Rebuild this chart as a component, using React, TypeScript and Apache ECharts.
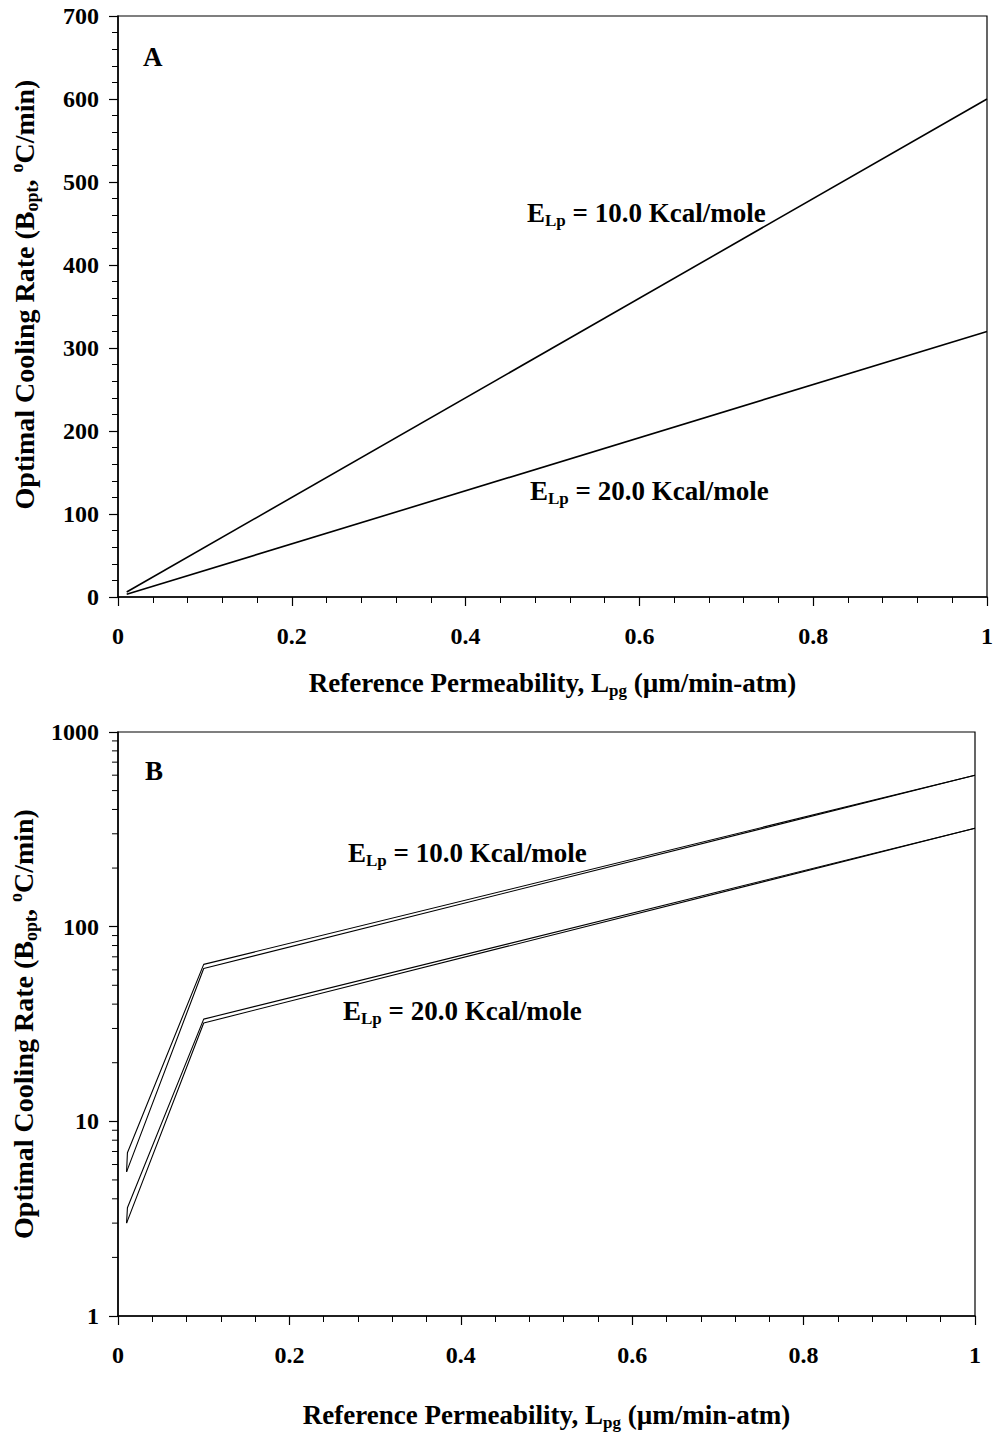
import React, { useEffect, useRef } from "react";
import * as echarts from "echarts";

// ---------- data ----------
// Panel A (linear scale)
const lpA = [0.01, 1.0];
const coolA_E10 = [6, 600];
const coolA_E20 = [3.2, 320];

// Panel B (log scale) – each curve drawn as a pair of close lines
const lpB_main = [0.01, 0.1, 1.0];
const lpB_alt = [0.01, 0.011, 0.1, 1.0];
const coolB_E10_main = [5.5, 61, 600];
const coolB_E10_alt = [5.5, 6.9, 64, 600];
const coolB_E20_main = [3.0, 32, 320];
const coolB_E20_alt = [3.0, 3.6, 33.5, 320];

const xTicks = [0, 0.2, 0.4, 0.6, 0.8, 1];
const yTicksA = [0, 100, 200, 300, 400, 500, 600, 700];
const yTicksB = [1, 10, 100, 1000];
const logMinor = [2, 3, 4, 5, 6, 7, 8, 9, 20, 30, 40, 50, 60, 70, 80, 90, 200, 300, 400, 500, 600, 700, 800, 900];

const FONT = "'Liberation Serif', 'Times New Roman', serif";

const pairs = (xs: number[], ys: number[]) => xs.map((x, i) => [x, ys[i]]);

const makeRich = (size: number, subSize: number) => ({
  b: { fontFamily: FONT, fontWeight: "bold", fontSize: size, lineHeight: size + 5, verticalAlign: "middle", color: "#000" },
  sub: { fontFamily: FONT, fontWeight: "bold", fontSize: subSize, lineHeight: subSize, verticalAlign: "bottom", color: "#000" },
  sup: { fontFamily: FONT, fontWeight: "bold", fontSize: subSize, lineHeight: subSize + 2, verticalAlign: "top", color: "#000" },
});
const richBase = makeRich(27, 17);
const richY = makeRich(28, 18);

const yName = "{b|Optimal Cooling Rate (B}{sub|opt}{b|, }{sup|o}{b|C/min)}";
const xName = "{b|Reference Permeability, L}{sub|pg}{b| (µm/min-atm)}";

function labelText(left: number, top: number, text: string) {
  return {
    type: "text",
    left,
    top,
    style: {
      text,
      rich: richBase,
      fill: "#000",
    },
  };
}

export default function App() {
  const ref = useRef<HTMLDivElement>(null);
  useEffect(() => {
    if (!ref.current) return;
    const chart = echarts.init(ref.current, undefined, { renderer: "svg" });

    const axisCommon = {
      axisLine: { show: true, onZero: false, lineStyle: { color: "#000", width: 1.5 } },
      axisTick: { show: true, inside: false, length: 9, lineStyle: { color: "#000", width: 1.2 } },
      minorTick: { show: true, splitNumber: 5, length: 6, lineStyle: { color: "#000", width: 1 } },
      splitLine: { show: false },
      minorSplitLine: { show: false },
      axisLabel: { fontFamily: FONT, fontWeight: "bold", fontSize: 24, color: "#000" },
    };

    const xAxis = (gridIndex: number, nameGap: number) => ({
      ...axisCommon,
      type: "value",
      gridIndex,
      min: 0,
      max: 1,
      interval: 0.2,
      axisLabel: {
        ...axisCommon.axisLabel,
        margin: 27,
        formatter: (v: number) => {
          const t = xTicks.find((k) => Math.abs(k - v) < 1e-6);
          return t === undefined ? "" : String(t);
        },
      },
      name: xName,
      nameLocation: "middle",
      nameGap,
      nameTextStyle: { rich: richBase },
    });

    const lineSeries = (xi: number, data: number[][], width: number) => ({
      type: "line",
      xAxisIndex: xi,
      yAxisIndex: xi,
      data,
      symbol: "none",
      silent: true,
      lineStyle: { color: "#000", width },
    });

    const option = {
      animation: false,
      backgroundColor: "#fff",
      grid: [
        { left: 118, top: 16, width: 869, height: 581, show: true, borderColor: "#000", borderWidth: 1.2, backgroundColor: "transparent", containLabel: false, outerBoundsMode: "none" },
        { left: 118, top: 732, width: 857, height: 584, show: true, borderColor: "#000", borderWidth: 1.2, backgroundColor: "transparent", containLabel: false, outerBoundsMode: "none" },
      ],
      xAxis: [xAxis(0, 70), xAxis(1, 83)],
      yAxis: [
        {
          ...axisCommon,
          type: "value",
          gridIndex: 0,
          min: yTicksA[0],
          max: yTicksA[yTicksA.length - 1],
          interval: 100,
          axisLabel: { ...axisCommon.axisLabel, margin: 19 },
          name: yName,
          nameLocation: "middle",
          nameRotate: 90,
          nameGap: 77,
          nameTextStyle: { rich: richY, padding: [0, 0, 0, 24] },
        },
        {
          ...axisCommon,
          type: "log",
          logBase: 10,
          gridIndex: 1,
          min: yTicksB[0],
          max: yTicksB[yTicksB.length - 1],
          minorTick: { show: false },
          axisLabel: {
            ...axisCommon.axisLabel,
            margin: 19,
            formatter: (v: number) => {
              const t = yTicksB.find((k) => Math.abs(k - v) / k < 1e-6);
              return t === undefined ? "" : String(t);
            },
          },
          name: yName,
          nameLocation: "middle",
          nameRotate: 90,
          nameGap: 72,
          nameTextStyle: { rich: richY },
        },
      ],
      series: [
        lineSeries(0, pairs(lpA, coolA_E10), 1.6),
        lineSeries(0, pairs(lpA, coolA_E20), 1.6),
        lineSeries(1, pairs(lpB_main, coolB_E10_main), 1.1),
        lineSeries(1, pairs(lpB_alt, coolB_E10_alt), 1.1),
        lineSeries(1, pairs(lpB_main, coolB_E20_main), 1.1),
        lineSeries(1, pairs(lpB_alt, coolB_E20_alt), 1.1),
        {
          type: "custom",
          xAxisIndex: 1,
          yAxisIndex: 1,
          clip: false,
          silent: true,
          data: logMinor.map((v) => [0, v]),
          renderItem: (_params: any, api: any) => {
            const p = api.coord([api.value(0), api.value(1)]);
            return {
              type: "line",
              shape: { x1: p[0] - 6, y1: p[1], x2: p[0], y2: p[1] },
              style: { stroke: "#000", lineWidth: 1 },
            };
          },
        },
      ],
      graphic: [
        { type: "text", left: 143, top: 43, style: { text: "A", font: `bold 27px ${FONT}`, fill: "#000" } },
        { type: "text", left: 145, top: 757, style: { text: "B", font: `bold 27px ${FONT}`, fill: "#000" } },
        labelText(527, 199, "{b|E}{sub|Lp}{b| = 10.0 Kcal/mole}"),
        labelText(530, 477, "{b|E}{sub|Lp}{b| = 20.0 Kcal/mole}"),
        labelText(348, 839, "{b|E}{sub|Lp}{b| = 10.0 Kcal/mole}"),
        labelText(343, 997, "{b|E}{sub|Lp}{b| = 20.0 Kcal/mole}"),
      ],
    };

    chart.setOption(option as any);
    return () => chart.dispose();
  }, []);

  return (
    <div
      ref={ref}
      style={{ position: "absolute", left: 0, top: 0, width: 994, height: 1437, background: "#fff" }}
    />
  );
}
